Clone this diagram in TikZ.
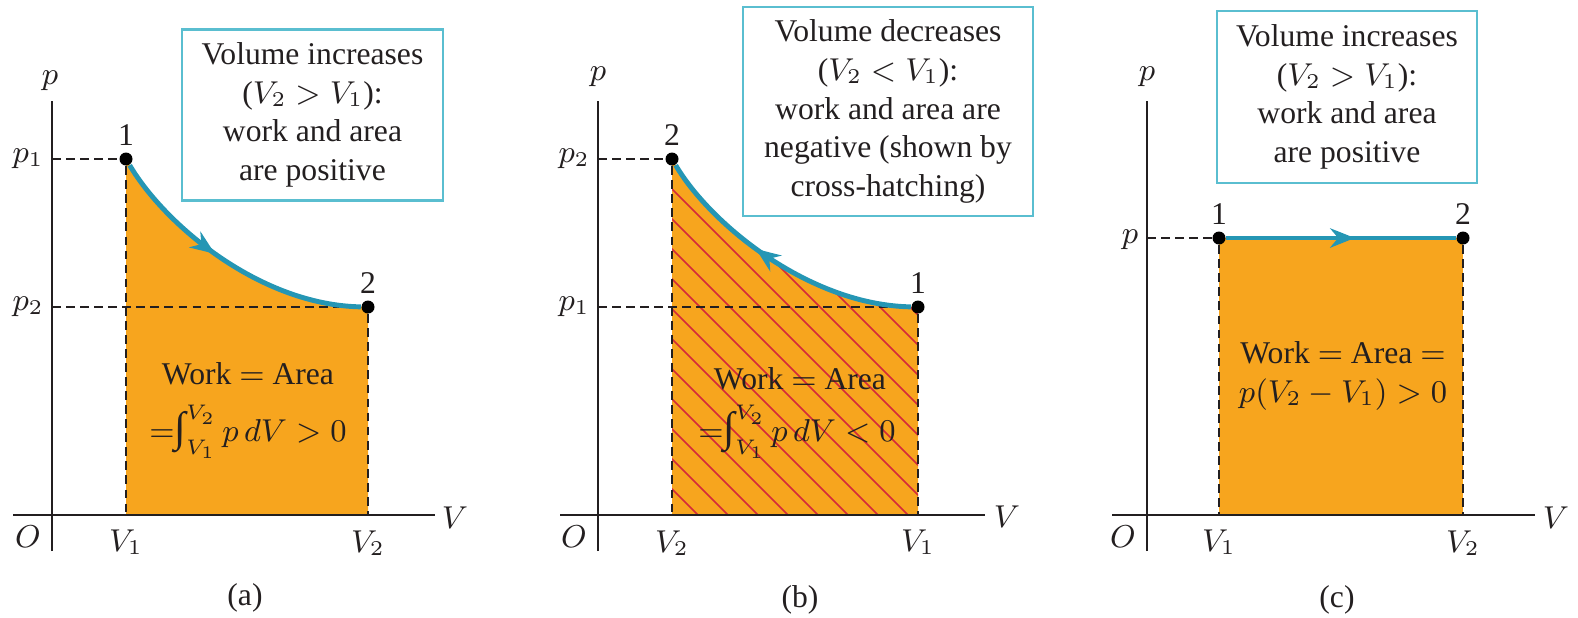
\documentclass[tikz,border=0pt]{standalone}
\usepackage{fontspec}
\setmainfont{Liberation Serif}
\usetikzlibrary{arrows.meta, calc, positioning, decorations.markings}
\definecolor{wOrange}{HTML}{F7A51E}
\definecolor{wTeal}{HTML}{2596B4}
\definecolor{wFrame}{HTML}{5ABED0}
\definecolor{wRed}{HTML}{D42A3A}
\definecolor{wInk}{HTML}{231F20}
\newcommand{\textint}{\mbox{\large ∫}}

\tikzset{
  axis/.style={wInk, line width=0.6pt},
  guide/.style={wInk, line width=0.6pt, dash pattern=on 2.5pt off 1.5pt},
  dot/.style={circle, fill=black, inner sep=0pt, minimum size=0.13cm},
  process/.style={wTeal, line width=1.4pt},
  midarrow/.style={postaction={decorate}, decoration={markings,
      mark=at position #1 with {\arrow{Stealth[length=7pt, width=5.5pt]}}}},
  note/.style={draw=wFrame, line width=0.8pt, align=center, text=wInk,
      font=\fontsize{9}{11}\selectfont, inner sep=2pt},
  lbl/.style={font=\fontsize{9}{11}\selectfont, text=wInk, inner sep=1pt},
  formula/.style={lbl, inner sep=0pt},
  hatch/.style={wRed, line width=0.5pt},
}

\begin{document}
\begin{tikzpicture}
  \useasboundingbox (0,0) rectangle (15.78,-6.17);
  % (a) expansion, work > 0
  \begin{scope}[shift={(0.52,-5.15)}]
    \fill[wOrange] (0.74,0) -- (0.74,3.56) .. controls (1.13,2.90) and (2.08,2.10) .. (3.16,2.08) -- (3.16,0) -- cycle;
    \draw[axis] (-0.39,0) -- (3.83,0);
    \draw[axis] (0,-0.36) -- (0,4.14);
    \coordinate (ap1) at (0,3.56); \coordinate (ap2) at (0,2.08);
    \coordinate (aV1) at (0.74,0); \coordinate (aV2) at (3.16,0);
    \node[dot] (a1) at (0.74,3.56) {};
    \node[dot] (a2) at (3.16,2.08) {};
    \draw[guide] (ap1) -- (a1);
    \draw[guide] (ap2) -- (a2);
    \draw[guide] (a1) -- (aV1);
    \draw[guide] (a2) -- (aV2);
    \draw[process, midarrow=0.44] (a1) .. controls (1.13,2.90) and (2.08,2.10) .. (a2);
    \node[lbl, above=0.5pt of a1] (a1n) {1};
    \node[lbl, above=0.5pt of a2] (a2n) {2};
    \node[lbl] (ap) at (-0.02,4.34) {$p$};
    \node[lbl] (ap1n) at (-0.24,3.56) {$p_1$};
    \node[lbl] (ap2n) at (-0.24,2.08) {$p_2$};
    \node[lbl] (aO) at (-0.24,-0.22) {$O$};
    \node[lbl] (aV1n) at (0.74,-0.27) {$V_1$};
    \node[lbl] (aV2n) at (3.16,-0.28) {$V_2$};
    \node[lbl] (aV) at (4.03,-0.03) {$V$};
    \node[formula] (awork) at (1.96,1.41) {Work $=$ Area};
    \node[formula] (aint) at (1.96,0.83) {${=}\textint_{V_1}^{V_2}\,p\,dV > 0$};
    \node[note, minimum width=2.61cm, minimum height=1.71cm] (abox) at (2.605,4.00)
      {Volume increases\\($V_2 > V_1$):\\work and area\\are positive};
    \node[lbl] (acap) at (1.93,-0.83) {(a)};
  \end{scope}
  % (b) compression, work < 0
  \begin{scope}[shift={(5.98,-5.15)}]
    \fill[wOrange] (0.74,0) -- (0.74,3.56) .. controls (1.13,2.90) and (2.12,2.10) .. (3.20,2.08) -- (3.20,0) -- cycle;
    \begin{scope}
      \clip (0.74,0) -- (0.74,3.56) .. controls (1.13,2.90) and (2.12,2.10) .. (3.20,2.08) -- (3.20,0) -- cycle;
      \foreach \s in {-3.3,-3.0,...,1.5}
        \draw[hatch] (\s,4) -- ++(4,-4);
    \end{scope}
    \draw[axis] (-0.38,0) -- (3.87,0);
    \draw[axis] (0,-0.36) -- (0,4.14);
    \coordinate (bp2) at (0,3.56); \coordinate (bp1) at (0,2.08);
    \coordinate (bV2) at (0.74,0); \coordinate (bV1) at (3.20,0);
    \node[dot] (b2) at (0.74,3.56) {};
    \node[dot] (b1) at (3.20,2.08) {};
    \draw[guide] (bp2) -- (b2);
    \draw[guide] (bp1) -- (b1);
    \draw[guide] (b2) -- (bV2);
    \draw[guide] (b1) -- (bV1);
    \draw[process, midarrow=0.59] (b1) .. controls (2.12,2.10) and (1.13,2.90) .. (b2);
    \node[lbl, above=0.5pt of b2] (b2n) {2};
    \node[lbl, above=0.5pt of b1] (b1n) {1};
    \node[lbl] (bp) at (0,4.38) {$p$};
    \node[lbl] (bp2n) at (-0.24,3.56) {$p_2$};
    \node[lbl] (bp1n) at (-0.24,2.08) {$p_1$};
    \node[lbl] (bO) at (-0.24,-0.22) {$O$};
    \node[lbl] (bV2n) at (0.74,-0.28) {$V_2$};
    \node[lbl] (bV1n) at (3.20,-0.27) {$V_1$};
    \node[lbl] (bV) at (4.09,-0.02) {$V$};
    \node[formula] (bwork) at (2.02,1.36) {Work $=$ Area};
    \node[formula] (bint) at (1.99,0.83) {${=}\textint_{V_1}^{V_2}\,p\,dV < 0$};
    \node[note, minimum width=2.90cm, minimum height=2.09cm] (bbox) at (2.90,4.035)
      {Volume decreases\\($V_2 < V_1$):\\work and area are\\negative (shown by\\cross-hatching)};
    \node[lbl] (bcap) at (2.02,-0.85) {(b)};
  \end{scope}
  % (c) constant pressure
  \begin{scope}[shift={(11.47,-5.15)}]
    \fill[wOrange] (0.72,0) rectangle (3.16,2.77);
    \draw[axis] (-0.35,0) -- (3.88,0);
    \draw[axis] (0,-0.36) -- (0,4.14);
    \coordinate (cp) at (0,2.77);
    \coordinate (cV1) at (0.72,0); \coordinate (cV2) at (3.16,0);
    \node[dot] (c1) at (0.72,2.77) {};
    \node[dot] (c2) at (3.16,2.77) {};
    \draw[guide] (cp) -- (c1);
    \draw[guide] (c1) -- (cV1);
    \draw[guide] (c2) -- (cV2);
    \draw[process, midarrow=0.56] (c1) -- (c2);
    \node[lbl, above=0.5pt of c1] (c1n) {1};
    \node[lbl, above=0.5pt of c2] (c2n) {2};
    \node[lbl] (cpy) at (0,4.38) {$p$};
    \node[lbl] (cpn) at (-0.17,2.75) {$p$};
    \node[lbl] (cO) at (-0.24,-0.22) {$O$};
    \node[lbl] (cV1n) at (0.72,-0.27) {$V_1$};
    \node[lbl] (cV2n) at (3.16,-0.28) {$V_2$};
    \node[lbl] (cV) at (4.09,-0.03) {$V$};
    \node[formula, align=center] (cwork) at (1.96,1.39)
      {Work $=$ Area $=$\\$p(V_2 - V_1) > 0$};
    \node[note, minimum width=2.60cm, minimum height=1.72cm] (cbox) at (2.00,4.18)
      {Volume increases\\($V_2 > V_1$):\\work and area\\are positive};
    \node[lbl] (ccap) at (1.90,-0.85) {(c)};
  \end{scope}
\end{tikzpicture}
\end{document}
